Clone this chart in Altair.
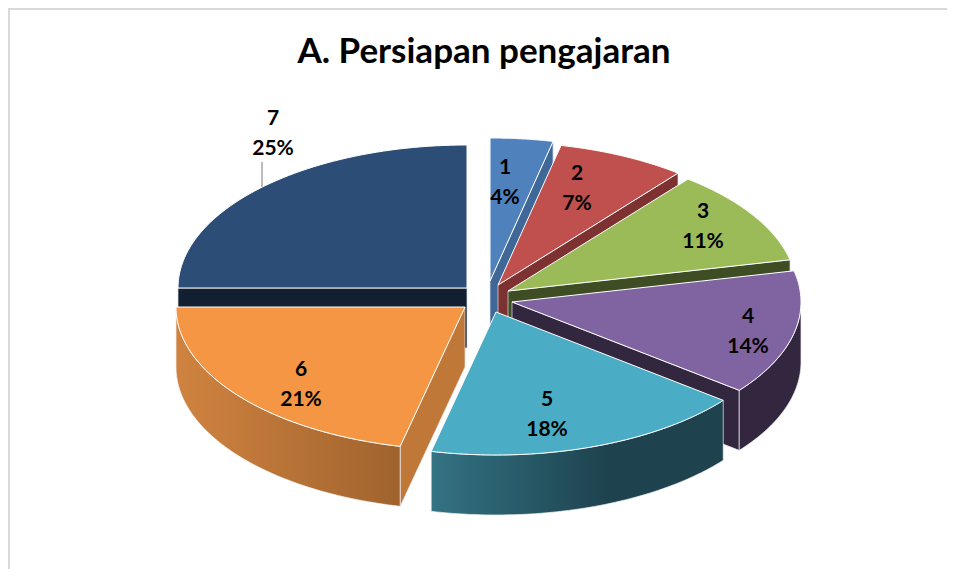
import numpy as np
import altair as alt

TITLE = "A. Persiapan pengajaran"
categories = ["1", "2", "3", "4", "5", "6", "7"]
shares = [3.5, 7.2, 10.8, 14.1, 18.0, 21.4, 25.0]
percent_labels = ["4%", "7%", "11%", "14%", "18%", "21%", "25%"]

top_colors = ["#4f81bd", "#c0504d", "#9bbb59", "#8064a2", "#4bacc6", "#f59644", "#2c4d75"]
wall_colors = ["#3f6797", "#7d3231", "#3f4d24", "#33263f", "#1f444f", "#c07838", "#121f30"]
outer_gradients = {"5": ("#337384", "#1e434e", 0.6), "6": ("#d08340", "#a0632e", 1.0)}

# layout (page pixels, minus the 8px margin when drawn)
apex_x = [490, 498, 508, 512, 496, 465, 467]
apex_y = [281, 285, 291, 302, 312, 307, 288]
label_x = [505, 577, 703, 748, 547, 301, 273]
label_y = [168, 174, 212, 317, 400, 370, 119]
RX, RY, DEPTH, M = 289, 143, 60, 8
PAINT_ORDER = ["7", "1", "2", "3", "4", "6", "5"]

W, H = 939, 561
proj = alt.Projection(type="identity", scale=1, translate=[-M, -M])


def shape(points, fill, stroke=None, sw=0.0):
    ring = [[float(x), float(y)] for x, y in points]
    ring.append(ring[0])
    feat = {"type": "Feature", "properties": {}, "geometry": {"type": "Polygon", "coordinates": [ring]}}
    kw = {"fill": fill, "strokeWidth": sw, "stroke": stroke if stroke else "transparent"}
    return alt.Chart(alt.Data(values=[feat])).mark_geoshape(**kw).project(**proj.to_dict())


def rim(cx, cy, a, b, n=60):
    t = np.radians(np.linspace(a, b, n))
    return list(zip(cx + RX * np.sin(t), cy - RY * np.cos(t)))


cum = np.cumsum([0] + shares) * 3.6
layers = []
for cat in PAINT_ORDER:
    i = categories.index(cat)
    a, b = cum[i], cum[i + 1]
    cx, cy = apex_x[i], apex_y[i]
    # only the cut faces that turn toward the viewer
    for edge in [e for e, seen in ((a, a > 180), (b, b < 180)) if seen]:
        p = rim(cx, cy, edge, edge, 1)[0]
        layers.append(shape([(cx, cy), p, (p[0], p[1] + DEPTH), (cx, cy + DEPTH)],
                            wall_colors[i], "#dfe3e8", 0.7))
    lo, hi = max(a, 90), min(b, 270)
    if hi > lo:
        arc = rim(cx, cy, lo, hi)
        poly = arc + [(x, y + DEPTH) for x, y in reversed(arc)]
        if cat in outer_gradients:
            c0, c1, stop = outer_gradients[cat]
            fill = alt.Gradient(gradient="linear", x1=0, x2=1, y1=0, y2=0,
                                stops=[alt.GradientStop(color=c0, offset=0),
                                       alt.GradientStop(color=c1, offset=stop),
                                       alt.GradientStop(color=c1, offset=1)])
        else:
            fill = wall_colors[i]
        layers.append(shape(poly, fill, "#f2f2f2", 0.7))
    layers.append(shape([(cx, cy)] + rim(cx, cy, a, b), top_colors[i], "#ffffff", 1.0))

labels = [{"t": f"{c}\n{p}", "x": x - M, "y": y - M}
          for c, p, x, y in zip(categories, percent_labels, label_x, label_y)]
label_layer = alt.Chart(alt.Data(values=labels)).mark_text(
    font="Lato", fontSize=21, fontWeight=700, color="#000000",
    align="center", baseline="middle", lineBreak="\n", lineHeight=30,
).encode(x=alt.X("x:Q", scale=None), y=alt.Y("y:Q", scale=None), text="t:N")

title_layer = alt.Chart(alt.Data(values=[{"t": TITLE}])).mark_text(
    font="Lato", fontSize=35, fontWeight=700, color="#000000",
    align="center", baseline="middle",
).encode(x=alt.value(484 - M), y=alt.value(52 - M), text="t:N")

leader = alt.Chart(alt.Data(values=[{"k": 0}])).mark_rule(color="#a6a6a6", strokeWidth=1.5).encode(
    x=alt.value(262 - M), y=alt.value(162 - M), y2=alt.value(187 - M))
frame_top = alt.Chart(alt.Data(values=[{"k": 0}])).mark_rule(color="#d9d9d9", strokeWidth=2).encode(
    x=alt.value(0), x2=alt.value(W), y=alt.value(1))
frame_left = alt.Chart(alt.Data(values=[{"k": 0}])).mark_rule(color="#d9d9d9", strokeWidth=2).encode(
    x=alt.value(1), y=alt.value(0), y2=alt.value(H))

chart = alt.layer(frame_top, frame_left, *layers, leader, label_layer, title_layer).properties(
    width=W, height=H, padding=0, autosize=alt.AutoSizeParams(type="none"),
    background="#ffffff",
).configure_view(stroke=None)

chart.save("out.html", embed_options={"renderer": "svg", "actions": False})
